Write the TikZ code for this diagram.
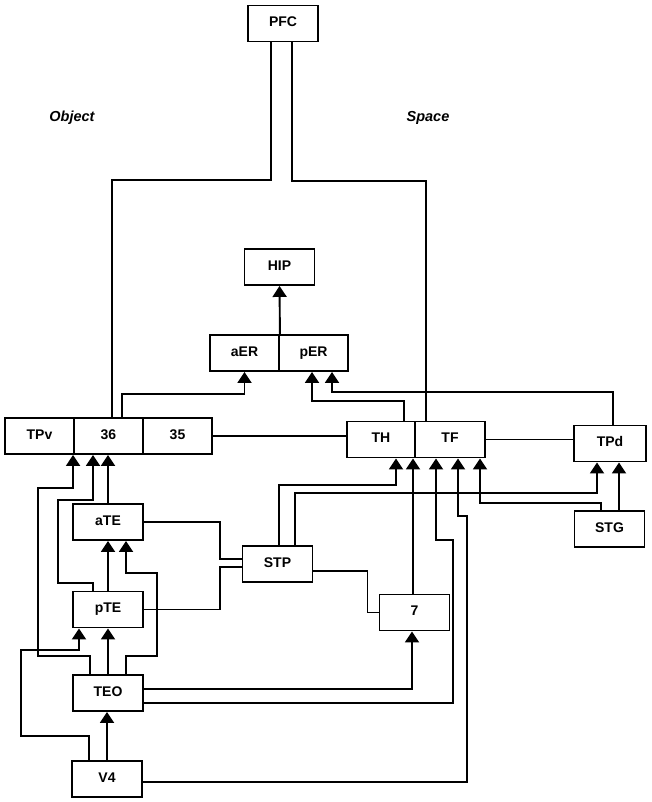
\documentclass[tikz,border=0pt]{standalone}
\usepackage{fontspec}
\setmainfont{Liberation Sans}
\usetikzlibrary{arrows.meta, calc}

\begin{document}
\begin{tikzpicture}[x=1pt, y=-1pt, line width=1.9pt,
    box/.style={draw, minimum width=70pt, minimum height=36pt, inner sep=0pt,
        text height=1.5ex, text depth=.25ex, font=\fontsize{14}{16}\selectfont\bfseries},
    arr/.style={-{Triangle[length=11pt,width=14pt]}}]
    \useasboundingbox (0,0) rectangle (652,802);

    % Stream labels
    \node[font=\fontsize{14.5}{16}\selectfont\bfseries\itshape] (object) at (72,118) {Object};
    \node[font=\fontsize{14.5}{16}\selectfont\bfseries\itshape] (space) at (428,118) {Space};

    % Frontal and hippocampal
    \node[box] (pfc) at (283,23.5) {PFC};
    \node[box] (hip) at (279.5,267) {HIP};
    \node[box, minimum width=69pt] (aer) at (244.5,353) {aER};
    \node[box, minimum width=69pt] (per) at (313.5,353) {pER};

    % Object stream
    \node[box, minimum width=69pt] (tpv) at (39.5,436) {TPv};
    \node[box, minimum width=69pt] (a36) at (108.5,436) {36};
    \node[box, minimum width=69pt] (a35) at (177.5,436) {35};
    \node[box] (ate) at (108,522) {aTE};
    \node[box] (pte) at (108,609.5) {pTE};
    \node[box] (teo) at (108,693) {TEO};
    \node[box] (vfour) at (107,779) {V4};

    % Space stream
    \node[box, minimum width=68pt] (th) at (381,439.5) {TH};
    \node[box] (tf) at (450,439.5) {TF};
    \node[box, minimum width=72pt] (tpd) at (610,443.5) {TPd};
    \node[box] (stg) at (609.5,529) {STG};
    \node[box] (stp) at (277.5,564) {STP};
    \node[box] (a7) at (414.5,612.5) {7};

    % PFC links
    \draw ([xshift=-12pt]pfc.south) -- ++(0,138) -| ([xshift=3.5pt]a36.north);
    \draw ([xshift=9pt]pfc.south) -- ++(0,139) -| ([xshift=-24pt]tf.north);

    % Into the entorhinal cortex
    \draw[arr] (aer.north east) -- (hip.south);
    \draw[arr] ([xshift=13.5pt]a36.north) -- ++(0,-23) -| (aer.south);
    \draw[arr] ([xshift=23pt]th.north) -- ++(0,-20) -| ([xshift=-1.5pt]per.south);
    \draw[arr] ([xshift=3pt]tpd.north) -- ++(0,-33) -| ([xshift=18.5pt]per.south);

    % Across the rows
    \draw (a35.east) -- (a35.east -| th.west);
    \draw (tf.east) -- (tf.east -| tpd.west);

    % Into TPd, TH and TF
    \draw[arr] ([xshift=9.5pt]stg.north) -- ([xshift=9.5pt]stg.north |- tpd.south);
    \draw[arr] ([xshift=-8.5pt]stg.north) -- ++(0,-7) -| ([xshift=30pt]tf.south);
    \draw[arr] ([xshift=1.5pt]stp.north) -- ++(0,-60) -| ([xshift=15pt]th.south);
    \draw[arr] ([xshift=17.5pt]stp.north) -- ++(0,-52) -| ([xshift=-13pt]tpd.south);
    \draw[arr] ([xshift=-1.5pt]a7.north) -- ([xshift=-1.5pt]a7.north |- th.south);
    \draw[arr] ([yshift=-10pt]teo.east) -| (453,540) -| ([xshift=-14pt]tf.south);
    \draw[arr] ([yshift=-3pt]vfour.east) -| (467,516) -| ([xshift=8pt]tf.south);

    % STP and area 7
    \draw[arr] ([yshift=4pt]teo.east) -| ([xshift=-2.5pt]a7.south);
    \draw ([yshift=-7pt]stp.east) -- ++(54,0) |- (a7.west);
    \draw (ate.east) -- ++(76,0) |- ([yshift=5pt]stp.west);
    \draw (pte.east) -- ++(76,0) |- ([yshift=-3pt]stp.west);

    % Ventral chain
    \draw[arr] (ate.north) -- (ate.north |- a36.south);
    \draw[arr] ([xshift=-15pt]pte.north) -- ++(0,-8) -| (58,500) -| ([xshift=-15.5pt]a36.south);
    \draw[arr] ([xshift=-18pt]teo.north) -- ++(0,-18) -| (38,488) -| (a36.south west);
    \draw[arr] (pte.north) -- (ate.south);
    \draw[arr] ([xshift=18pt]teo.north) -- ++(0,-18) -| (157,573) -| ([xshift=18pt]ate.south);
    \draw[arr] (teo.north) -- (pte.south);
    \draw[arr] ([xshift=-18pt]vfour.north) -- ++(0,-24) -| (21,650) -| ([xshift=-29pt]pte.south);
    \draw[arr] (vfour.north) -- (vfour.north |- teo.south);
\end{tikzpicture}
\end{document}
